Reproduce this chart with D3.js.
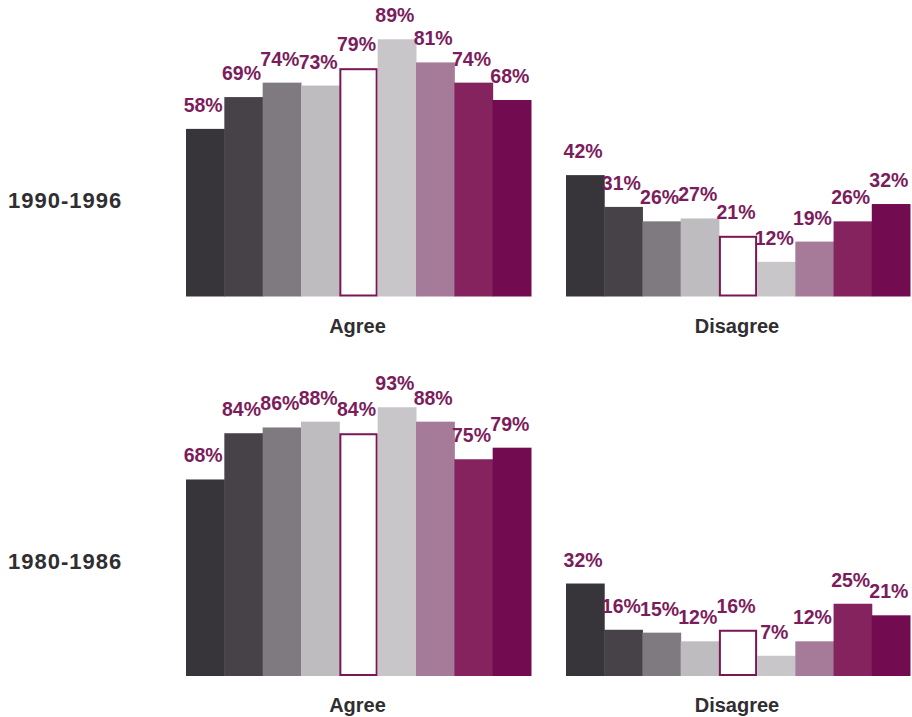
<!DOCTYPE html>
<html>
<head>
<meta charset="utf-8">
<script src="https://cdn.jsdelivr.net/npm/d3@7"></script>
<style>
  html, body { margin: 0; padding: 0; background: #ffffff; }
  svg { display: block; font-family: "Liberation Sans", Arial, Helvetica, sans-serif; }
</style>
</head>
<body>
<svg id="chart" width="912" height="717"></svg>
<script>
// Survey periods (rows) and response groups (columns)
const periods = ["1990-1996", "1980-1986"];
const groups = ["Agree", "Disagree"];
const seriesKeys = ["s1", "s2", "s3", "s4", "s5", "s6", "s7", "s8", "s9"];

// Percentages per series, in bar order
const agree1990    = [58, 69, 74, 73, 79, 89, 81, 74, 68];
const disagree1990 = [42, 31, 26, 27, 21, 12, 19, 26, 32];
const agree1980    = [68, 84, 86, 88, 84, 93, 88, 75, 79];
const disagree1980 = [32, 16, 15, 12, 16, 7, 12, 25, 21];

const valuesByPeriod = {
  "1990-1996": { Agree: agree1990, Disagree: disagree1990 },
  "1980-1986": { Agree: agree1980, Disagree: disagree1980 }
};

// Fill per series; the fifth series is drawn as an outlined bar
const fills  = ["#38353a", "#464248", "#7e7a80", "#bfbcc0", "#ffffff", "#c9c6ca", "#a57b99", "#85235e", "#730b50"];
const outline = "#7a1656";
const labelColor = "#7b1d5c";
const textColor = "#2f2e31";

const svg = d3.select("#chart");

// Horizontal layout of the two groups
const groupX = d3.scaleOrdinal().domain(groups).range([[186, 531], [566, 910]]);
// Baselines of the two period rows
const rowBase = d3.scaleOrdinal().domain(periods).range([296.5, 676]);
const barSpan = 289; // pixel height of 100%

const y = d3.scaleLinear().domain([0, 100]).range([barSpan, 0]);

periods.forEach(period => {
  const base = rowBase(period);
  const row = svg.append("g").attr("transform", `translate(0,${base - barSpan})`);

  // Period label on the left
  svg.append("text")
    .attr("x", 8)
    .attr("y", period === "1990-1996" ? 208 : 569)
    .attr("fill", textColor)
    .attr("font-size", 22)
    .attr("font-weight", "bold")
    .attr("letter-spacing", 1)
    .text(period);

  groups.forEach(group => {
    const vals = valuesByPeriod[period][group];
    const data = seriesKeys.map((k, i) => ({ key: k, i, v: vals[i] }));
    const x = d3.scaleBand().domain(seriesKeys).range(groupX(group)).padding(0);

    const g = row.append("g");

    g.selectAll("rect.bar")
      .data(data)
      .join("rect")
      .attr("class", "bar")
      .attr("x", d => d.i === 4 ? x(d.key) + 1 : x(d.key))
      .attr("y", d => d.i === 4 ? y(d.v) + 1 : y(d.v))
      .attr("width", d => d.i === 4 ? x.bandwidth() - 2 : x.bandwidth() + 0.5)
      .attr("height", d => d.i === 4 ? y(0) - y(d.v) - 2 : y(0) - y(d.v))
      .attr("fill", (d, i) => fills[i])
      .attr("stroke", d => d.i === 4 ? outline : "none")
      .attr("stroke-width", d => d.i === 4 ? 2 : 0);

    g.selectAll("text.val")
      .data(data)
      .join("text")
      .attr("class", "val")
      .attr("x", d => x(d.key) + x.bandwidth() / 2 - 2)
      .attr("y", d => y(d.v) - 17)
      .attr("text-anchor", "middle")
      .attr("fill", labelColor)
      .attr("font-size", 19.5)
      .attr("font-weight", "bold")
      .text(d => d.v + "%");

    // Group label under the bars
    const [x0, x1] = groupX(group);
    svg.append("text")
      .attr("x", (x0 + x1) / 2 - 1)
      .attr("y", base + 36)
      .attr("text-anchor", "middle")
      .attr("fill", textColor)
      .attr("font-size", 20)
      .attr("font-weight", "bold")
      .text(group);
  });
});
</script>
</body>
</html>
